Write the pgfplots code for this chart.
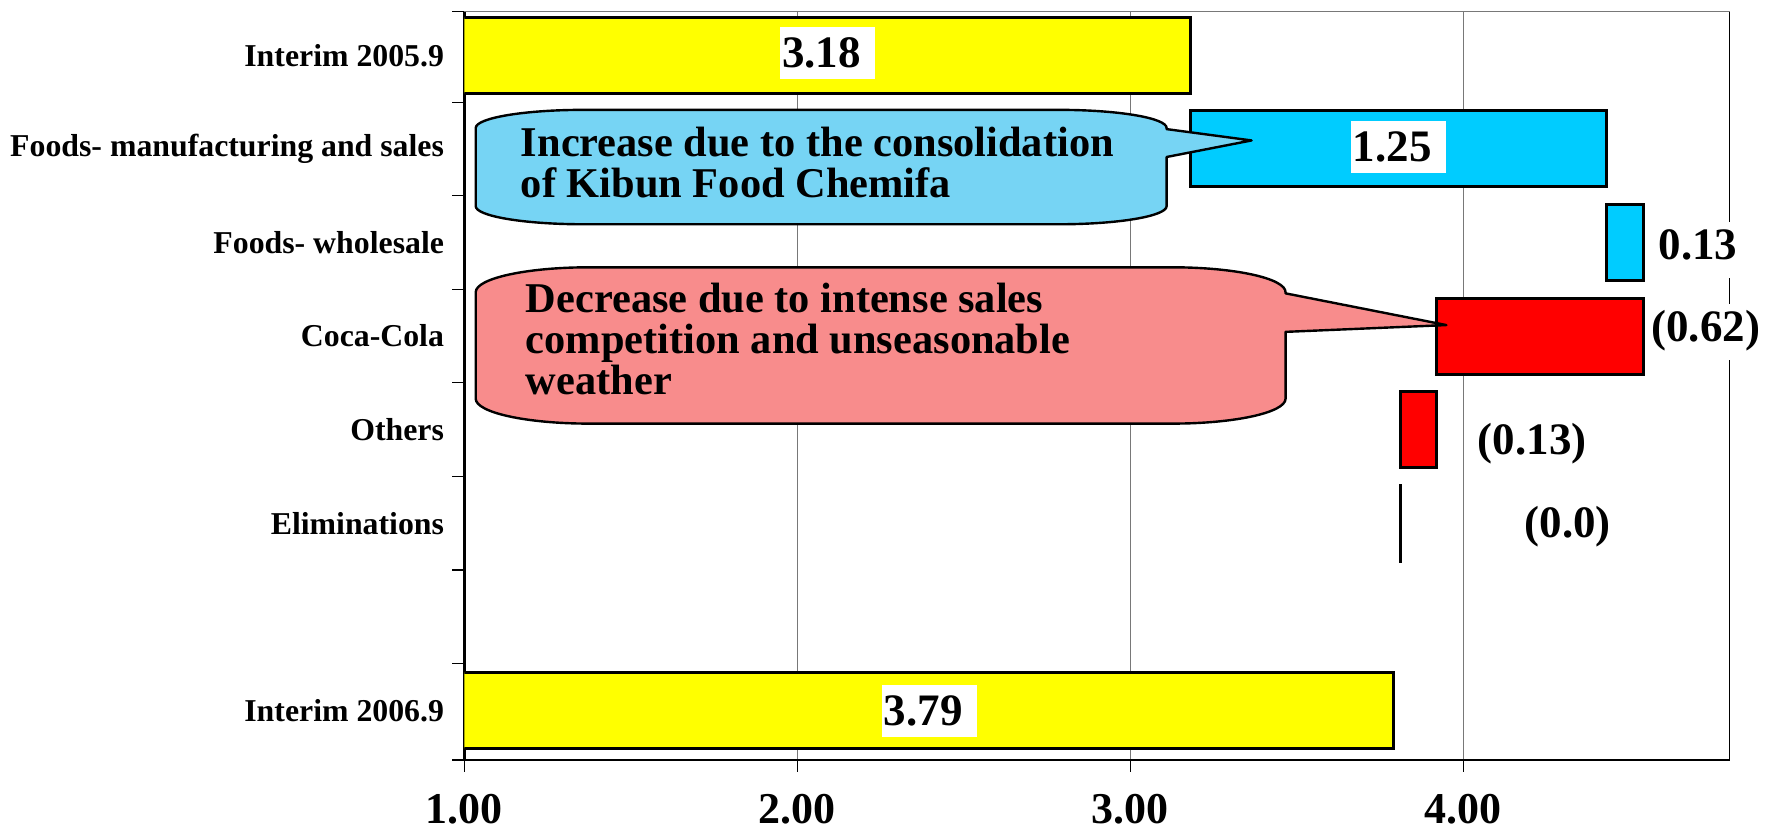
\documentclass[border=0pt]{standalone}
\usepackage{fontspec}
\setmainfont{Liberation Serif}
\usepackage{pgfplots}
\usepackage{pgfplotstable}
\pgfplotsset{compat=1.18}
\definecolor{barY}{RGB}{255,255,0}
\definecolor{barC}{RGB}{0,204,255}
\definecolor{barR}{RGB}{255,0,0}
\definecolor{callC}{RGB}{118,212,244}
\definecolor{callR}{RGB}{248,140,140}
\definecolor{gridG}{RGB}{120,120,120}

\pgfplotstableread{
y base yel cya red
0 0    3.18 0    0
1 3.18 0    1.25 0
2 4.43 0    0.11 0
3 3.92 0    0    0.62
4 3.81 0    0    0.11
5 3.81 0    0    0.002
7 0    3.79 0    0
}\wf

\begin{document}
\begin{tikzpicture}
\begin{axis}[
  scale only axis, width=632.6pt, height=374.3pt,
  xbar stacked, bar width=38pt,
  xmin=1, xmax=4.8, ymin=-0.47, ymax=7.53, y dir=reverse,
  clip mode=individual,
  axis line style={draw=none},
  tick pos=left, tick align=outside,
  major tick length=6pt,
  tick style={black, line width=0.6pt},
  xtick={1,2,3,4}, xticklabels={1.00,2.00,3.00,4.00},
  xmajorgrids, grid style={gridG, line width=0.6pt},
  every x tick label/.append style={font=\fontsize{22}{26}\selectfont\bfseries, inner sep=0pt, yshift=-11pt},
  ytick={-0.47,0.5,1.5,2.5,3.5,4.5,5.5,6.5,7.53}, yticklabels={},
  extra y ticks={0,1,2,3,4,5,7},
  extra y tick labels={Interim 2005.9,Foods- manufacturing and sales,Foods- wholesale,Coca-Cola,Others,Eliminations,Interim 2006.9},
  extra y tick style={major tick length=0pt, ymajorgrids=false},
  every y tick label/.append style={font=\fontsize{15.9}{19}\selectfont\bfseries, inner sep=0pt, xshift=-10pt},
]
\addplot [draw=none, fill=none] table [x=base, y=y] {\wf};
\addplot [fill=barY, draw=black, line width=1.5pt] table [x=yel, y=y] {\wf};
\addplot [fill=barC, draw=black, line width=1.5pt] table [x=cya, y=y] {\wf};
\addplot [fill=barR, draw=black, line width=1.5pt] table [x=red, y=y] {\wf};

\draw [gridG, line width=0.6pt] (axis cs:1,-0.47) -- (axis cs:4.8,-0.47);
\draw [black, line width=0.7pt] (axis cs:4.8,-0.47) -- (axis cs:4.8,7.53);
\draw [black, line width=1.3pt] (axis cs:1,-0.47) -- (axis cs:1,7.53);
\draw [black, line width=1.4pt] (axis cs:1,7.53) -- (axis cs:4.8,7.53);

\coordinate (L1) at (axis cs:1.947,0.133);
\coordinate (L2) at (axis cs:3.661,1.137);
\coordinate (L3) at (axis cs:2.253,7.162);
\coordinate (R1) at (axis cs:4.705,2.187);
\coordinate (R2) at (axis cs:4.728,3.063);
\coordinate (R3) at (axis cs:4.207,4.270);
\coordinate (R4) at (axis cs:4.314,5.157);
\coordinate (O) at (axis cs:1,-0.47);
\end{axis}
\tikzset{vlab/.style={font=\fontsize{22.5}{27}\selectfont\bfseries, fill=white, inner xsep=1pt, inner ysep=0pt}}
\node [vlab, anchor=base west, text width=45.5pt, align=left, text height=20.3pt, text depth=5.7pt] at (L1) {3.18};
\node [vlab, anchor=base west, text width=45.5pt, align=left, text height=20.3pt, text depth=5.7pt] at (L2) {1.25};
\node [vlab, anchor=base west, text width=45.5pt, align=left, text height=20.3pt, text depth=5.7pt] at (L3) {3.79};
\node [vlab, anchor=base, text height=19pt, text depth=9pt] at (R1) {0.13};
\node [vlab, anchor=base, text height=19pt, text depth=9pt] at (R2) {(0.62)};
\node [vlab, anchor=base, text height=19pt, text depth=9pt] at (R3) {(0.13)};
\node [vlab, anchor=base, text height=19pt, text depth=9pt] at (R4) {(0.0)};
\begin{scope}[shift={(O)}]
\begin{scope}[x=0.5663pt, y=-0.5663pt]
\begin{scope}[shift={(-410,-10)}]
  \path (0,0) rectangle (1568,733);
  % blue callout
  \draw [fill=callC, line width=1.2pt, line join=round]
    (420,113) .. controls (420,104.2) and (462.5,97) .. (515,97)
    -- (935,97) .. controls (987.5,97) and (1030,104.2) .. (1030,113)
    -- (1030,114) -- (1105,124) -- (1030,138.6)
    -- (1030,182) .. controls (1030,190.8) and (987.5,198) .. (935,198)
    -- (515,198) .. controls (462.5,198) and (420,190.8) .. (420,182) -- cycle;
  % red callout
  \draw [fill=callR, line width=1.2pt, line join=round]
    (420,258) .. controls (420,245.8) and (464.8,236) .. (520,236)
    -- (1035,236) .. controls (1090.2,236) and (1135,245.8) .. (1135,258)
    -- (1135,259) -- (1277,287) -- (1135,293)
    -- (1135,352) .. controls (1135,364.2) and (1090.2,374) .. (1035,374)
    -- (520,374) .. controls (464.8,374) and (420,364.2) .. (420,352) -- cycle;
  \tikzset{ctext/.style={font=\fontsize{21.2}{20.4}\selectfont\bfseries, anchor=base west, inner sep=0pt}}
  \node [ctext] at (459.6,137.8) {Increase due to the consolidation};
  \node [ctext] at (459.6,174) {of Kibun Food Chemifa};
  \node [ctext] at (464,276) {Decrease due to intense sales};
  \node [ctext] at (464,312) {competition and unseasonable};
  \node [ctext] at (464,348.6) {weather};
\end{scope}
\end{scope}
\end{scope}
\end{tikzpicture}
\end{document}
